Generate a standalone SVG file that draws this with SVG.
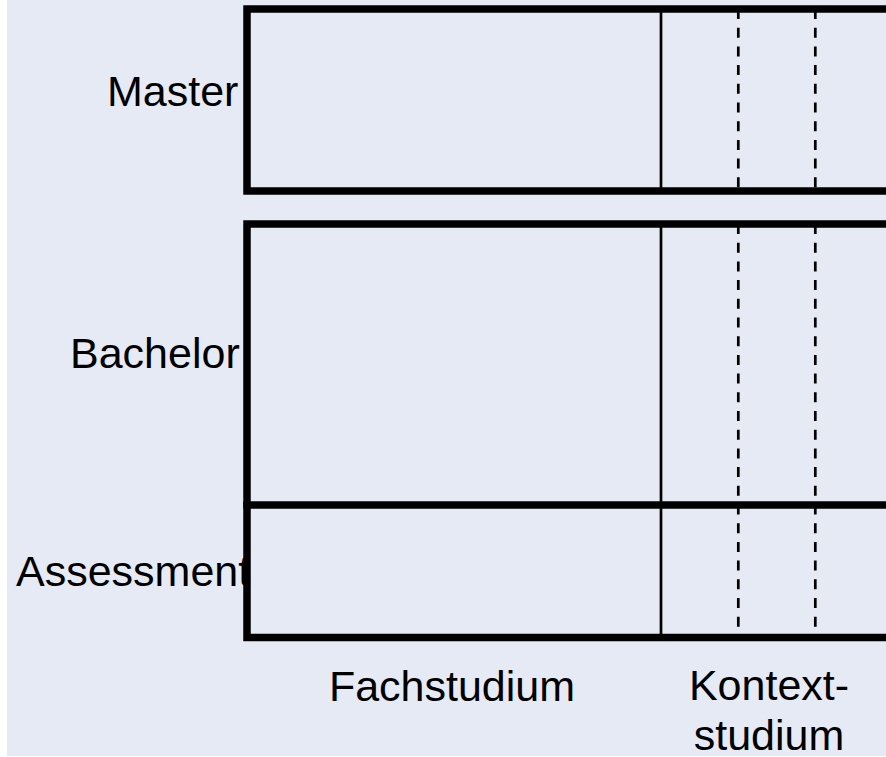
<svg xmlns="http://www.w3.org/2000/svg" width="886" height="757" viewBox="0 0 886 757">
<style>
.box{fill:none;stroke:#000;stroke-width:7.5}
.solid{stroke:#000;stroke-width:2.7}
.dash{stroke:#000;stroke-width:2.7;stroke-dasharray:10 8.7}
.lbl{font-family:"Liberation Sans",Arial,sans-serif;font-size:43px;fill:#000}
</style>
<rect x="7" y="0" width="879" height="756" fill="#e6eaf4"/>
<g id="connectors">
<line class="solid" x1="661" y1="9" x2="661" y2="191"/>
<line class="dash" x1="738.3" y1="9" x2="738.3" y2="191"/>
<line class="dash" x1="815.3" y1="9" x2="815.3" y2="191"/>
<line class="solid" x1="661" y1="224" x2="661" y2="637.5"/>
<line class="dash" x1="738.3" y1="224" x2="738.3" y2="637.5"/>
<line class="dash" x1="815.3" y1="224" x2="815.3" y2="637.5"/>
</g>
<g id="master">
<rect class="box" x="247" y="9" width="700" height="182"/>
<text class="lbl" x="107" y="106">Master</text>
</g>
<g id="bachelor">
<rect class="box" x="247" y="224" width="700" height="413.5"/>
<text class="lbl" x="70" y="368">Bachelor</text>
</g>
<g id="assessment">
<line class="box" x1="243.25" y1="505" x2="900" y2="505"/>
<text class="lbl" x="16" y="586">Assessment</text>
</g>
<g id="columns">
<text class="lbl" x="452" y="701" text-anchor="middle">Fachstudium</text>
<text class="lbl" x="769" y="700" text-anchor="middle">Kontext-</text>
<text class="lbl" x="769" y="750" text-anchor="middle">studium</text>
</g>
</svg>
